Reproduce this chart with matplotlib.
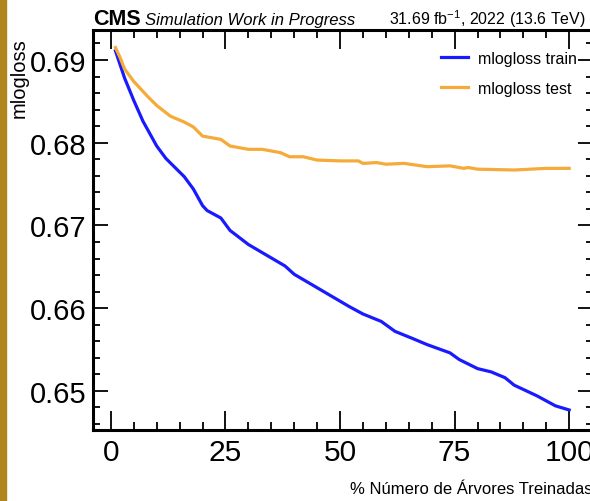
import numpy as np
import matplotlib
matplotlib.use("Agg")
import matplotlib.pyplot as plt
from matplotlib.patches import Rectangle
from matplotlib.ticker import MultipleLocator

# mlogloss per fraction of trained trees
x_train = [1, 3, 5, 7, 10, 12, 14, 16, 18, 20, 21, 24, 26, 30, 34, 38, 40, 44, 48,
           52, 55, 59, 62, 66, 69, 74, 76, 80, 83, 86, 88, 93, 97, 100]
loss_train = [0.6911, 0.6878, 0.6851, 0.6826, 0.6796, 0.6781, 0.6770, 0.6759, 0.6744,
              0.6724, 0.6718, 0.6709, 0.6694, 0.6677, 0.6664, 0.6651, 0.6641, 0.6628,
              0.6615, 0.6602, 0.6593, 0.6584, 0.6572, 0.6563, 0.6556, 0.6546, 0.6538,
              0.6527, 0.6523, 0.6516, 0.6507, 0.6494, 0.6482, 0.6477]

x_test = [1, 2, 3, 5, 8, 10, 13, 16, 18, 20, 22, 24, 26, 30, 33, 37, 39, 42, 45, 50,
          54, 55, 58, 60, 64, 69, 74, 77, 78, 80, 88, 95, 100]
loss_test = [0.6915, 0.6903, 0.6889, 0.6874, 0.6856, 0.6845, 0.6832, 0.6825, 0.6819,
             0.6808, 0.6806, 0.6804, 0.6796, 0.6792, 0.6792, 0.6788, 0.6783, 0.6783,
             0.6779, 0.6778, 0.6778, 0.6775, 0.6776, 0.6774, 0.6775, 0.6771, 0.6772,
             0.6769, 0.6770, 0.6768, 0.6767, 0.6769, 0.6769]

plt.rcParams['font.family'] = ['Liberation Sans', 'DejaVu Sans']
plt.rcParams['mathtext.fontset'] = 'custom'
plt.rcParams['mathtext.rm'] = 'Liberation Sans'

fig = plt.figure(figsize=(5.9, 5.02), dpi=100, facecolor='w')
ax = fig.add_axes([93 / 590, 1 - 431 / 502, 500 / 590, 400 / 502])

ax.plot(x_train, loss_train, color='#1a1aff', lw=2.3, label='mlogloss train')
ax.plot(x_test, loss_test, color='#f5aa3a', lw=2.3, label='mlogloss test')

ax.set_xlim(-3.9, 105.2)
ax.set_ylim(0.64528, 0.69362)
ax.xaxis.set_major_locator(MultipleLocator(25))
ax.xaxis.set_minor_locator(MultipleLocator(5))
ax.yaxis.set_major_locator(MultipleLocator(0.01))
ax.yaxis.set_minor_locator(MultipleLocator(0.002))
ax.yaxis.set_major_formatter(plt.FuncFormatter(lambda v, p: f'{v:.2f}'))

ax.tick_params(which='both', direction='in', top=True, right=True, width=1.3)
ax.tick_params(axis='x', which='major', length=14, labelsize=21.5, pad=6)
ax.tick_params(axis='x', which='minor', length=6)
ax.tick_params(axis='y', which='major', length=11, labelsize=21, pad=5)
ax.tick_params(axis='y', which='minor', length=5)
for s in ax.spines.values():
    s.set_linewidth(2.2)

ax.legend(loc='upper right', bbox_to_anchor=((577 - 93) / 500, 0.948), frameon=False,
          fontsize=11.5, handlelength=1.7, handletextpad=0.62, labelspacing=0.95,
          borderpad=0, borderaxespad=0)

ax.text(0, 1.014, 'CMS', transform=ax.transAxes, fontsize=15.5, fontweight='bold',
        ha='left', va='baseline')
ax.text(0.104, 1.014, 'Simulation Work in Progress', transform=ax.transAxes,
        fontsize=12, style='italic', ha='left', va='baseline')
ax.text(0.986, 1.014, r'31.69 fb$^{-1}$, 2022 (13.6 TeV)', transform=ax.transAxes,
        fontsize=11.5, ha='right', va='baseline')

ax.text(1.0, -0.1475, '% Número de Árvores Treinadas', transform=ax.transAxes,
        fontsize=12, ha='right', va='center')
ax.text(-0.148, 0.9825, 'mlogloss', transform=ax.transAxes, fontsize=14.5,
        rotation=90, ha='center', va='top')

# gold border strip on the left edge
fig.patches.append(Rectangle((0, 0), 6 / 590, 1, transform=fig.transFigure,
                             color='#b0861f', zorder=10))

fig.savefig('out.png', dpi=100, facecolor='w')
